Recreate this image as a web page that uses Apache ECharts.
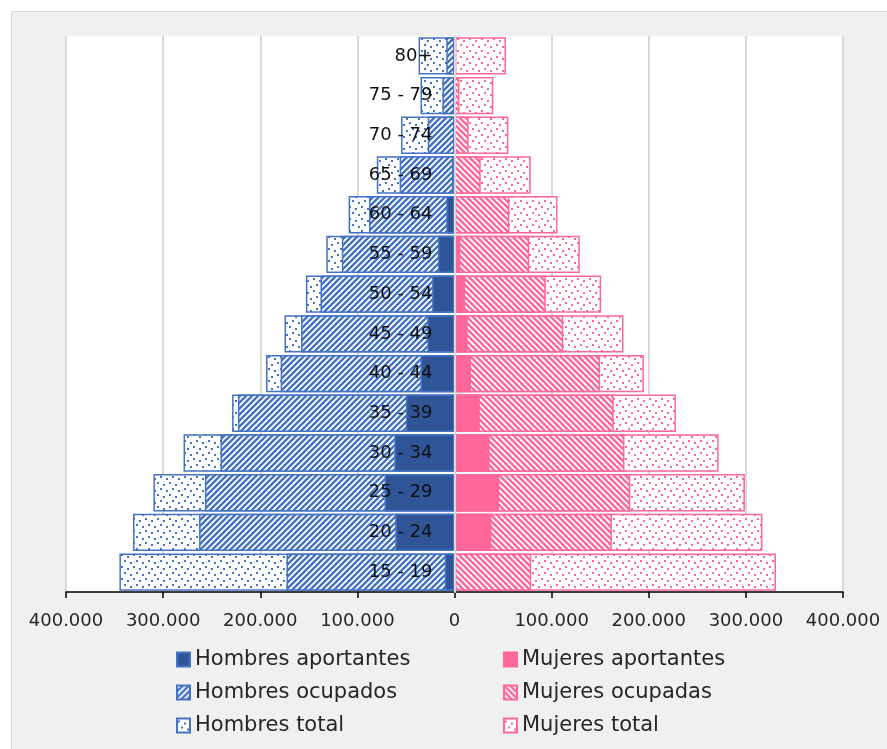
<!DOCTYPE html>
<html>
<head>
<meta charset="utf-8">
<script src="https://cdn.jsdelivr.net/npm/echarts@6/dist/echarts.min.js"></script>
<style>
  body { margin: 0; background: #ffffff; }
  #chart {
    position: absolute; left: 11px; top: 11px;
    width: 876px; height: 738px;
    box-sizing: border-box;
    border-top: 1px solid #d9d9d9; border-left: 1px solid #d9d9d9;
  }
</style>
</head>
<body>
<div id="chart"></div>
<script>
// grupos de edad (de abajo hacia arriba)
const categorias = ['15 - 19', '20 - 24', '25 - 29', '30 - 34', '35 - 39', '40 - 44', '45 - 49',
    '50 - 54', '55 - 59', '60 - 64', '65 - 69', '70 - 74', '75 - 79', '80+']

const hombresTotal = [345000, 331000, 310000, 279000, 229000, 194000, 175000, 153000, 132000, 109000, 80000, 55000, 35000, 37000]
const hombresOcupados = [173000, 263000, 257000, 241000, 223000, 179000, 158000, 138000, 116000, 88000, 56500, 27500, 12500, 8500]
const hombresAportantes = [10000, 61000, 72000, 62000, 50000, 35000, 28000, 23000, 17000, 8500, 2500, 1500, 1000, 1000]

const mujeresTotal = [331000, 317000, 299000, 272000, 228000, 195000, 174000, 151000, 129000, 106000, 78500, 55500, 40000, 53000]
const mujeresOcupadas = [79000, 162000, 181000, 175000, 164000, 150000, 112000, 94000, 77000, 56500, 27000, 14500, 5000, 2000]
const mujeresAportantes = [2000, 38000, 46000, 36000, 26000, 17000, 13500, 11000, 6000, 2000, 1000, 500, 300, 200]

const ticks = [-400000, 400000, 100000] // min, max, intervalo

const AZUL = '#4472C4'
const AZUL_OSCURO = '#2F5597'
const ROSA = '#FF6699'
const FUENTE = '"DejaVu Sans", sans-serif'

// texturas tipo Excel
function rayado(color, haciaArriba) {
    const s = 6
    const c = document.createElement('canvas')
    c.width = s; c.height = s
    const ctx = c.getContext('2d')
    ctx.fillStyle = '#fff'
    ctx.fillRect(0, 0, s, s)
    ctx.strokeStyle = color
    ctx.lineWidth = 2.4
    ctx.beginPath()
    if (haciaArriba) {
        ctx.moveTo(-1, 1); ctx.lineTo(1, -1)
        ctx.moveTo(0, s); ctx.lineTo(s, 0)
        ctx.moveTo(s - 1, s + 1); ctx.lineTo(s + 1, s - 1)
    } else {
        ctx.moveTo(-1, s - 1); ctx.lineTo(1, s + 1)
        ctx.moveTo(0, 0); ctx.lineTo(s, s)
        ctx.moveTo(s - 1, -1); ctx.lineTo(s + 1, 1)
    }
    ctx.stroke()
    return { image: c, repeat: 'repeat' }
}

function punteado(color) {
    const s = 12
    const c = document.createElement('canvas')
    c.width = s; c.height = s
    const ctx = c.getContext('2d')
    ctx.fillStyle = '#fff'
    ctx.fillRect(0, 0, s, s)
    ctx.fillStyle = color
    ;[[1, 2], [7, 4], [4, 8], [10, 10]].forEach(p => ctx.fillRect(p[0], p[1], 2, 2))
    return { image: c, repeat: 'repeat' }
}

const neg = arr => arr.map(v => -v)

function barra(nombre, datos, color, borde) {
    return {
        name: nombre,
        type: 'bar',
        data: datos,
        barGap: '-100%',
        barCategoryGap: '6%',
        itemStyle: { color: color, borderColor: borde, borderWidth: 1.5 },
        emphasis: { disabled: true }
    }
}

const chart = echarts.init(document.getElementById('chart'))

const gridLeft = 54, gridRight = 44
const anchoGrid = 875 - gridLeft - gridRight
const leyenda = {
    orient: 'vertical', top: 635, padding: 0,
    itemWidth: 13, itemHeight: 14, itemGap: 8,
    icon: 'rect',
    textStyle: { fontSize: 21, lineHeight: 25, color: '#262626', fontFamily: FUENTE }
}

chart.setOption({
    backgroundColor: '#f0f0f0',
    animation: false,
    textStyle: { fontFamily: FUENTE },
    grid: {
        left: gridLeft, right: gridRight, top: 24, bottom: 157,
        containLabel: false, outerBoundsMode: 'none',
        show: true, backgroundColor: '#ffffff', borderWidth: 0
    },
    xAxis: {
        type: 'value',
        min: ticks[0],
        max: ticks[1],
        interval: ticks[2],
        axisLine: { show: true, onZero: false, lineStyle: { color: '#000', width: 1.5 } },
        axisTick: { show: true, length: 6, lineStyle: { color: '#000', width: 1.5 } },
        splitLine: { show: true, lineStyle: { color: '#d9d9d9', width: 2 } },
        axisLabel: {
            margin: 20,
            fontSize: 18,
            color: '#262626',
            fontFamily: FUENTE,
            formatter: v => Math.abs(v).toLocaleString('de-DE')
        }
    },
    yAxis: {
        type: 'category',
        data: categorias,
        position: 'left',
        offset: -anchoGrid / 2,
        z: 10,
        axisLine: { show: true, onZero: false, lineStyle: { color: '#d9d9d9', width: 2 } },
        axisTick: { show: false },
        axisLabel: { margin: 22, fontSize: 18, color: '#111', fontFamily: FUENTE }
    },
    legend: [
        Object.assign({ left: 164, data: ['Hombres aportantes', 'Hombres ocupados', 'Hombres total'] }, leyenda),
        Object.assign({ left: 491, data: ['Mujeres aportantes', 'Mujeres ocupadas', 'Mujeres total'] }, leyenda)
    ],
    series: [
        barra('Hombres total', neg(hombresTotal), punteado(AZUL), AZUL),
        barra('Hombres ocupados', neg(hombresOcupados), rayado(AZUL, true), AZUL),
        barra('Hombres aportantes', neg(hombresAportantes), AZUL_OSCURO, AZUL),
        barra('Mujeres total', mujeresTotal, punteado(ROSA), ROSA),
        barra('Mujeres ocupadas', mujeresOcupadas, rayado(ROSA, false), ROSA),
        barra('Mujeres aportantes', mujeresAportantes, ROSA, ROSA)
    ]
})
</script>
</body>
</html>
